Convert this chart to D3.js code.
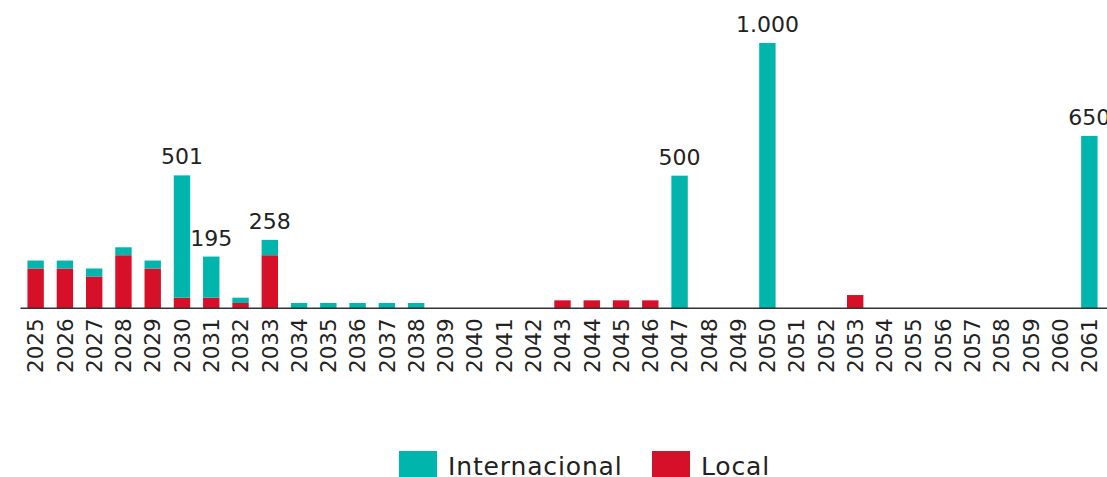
<!DOCTYPE html>
<html>
<head>
<meta charset="utf-8">
<script src="https://cdn.jsdelivr.net/npm/d3@7"></script>
<style>
  html, body { margin: 0; padding: 0; background: #fff; }
  svg { display: block; }
</style>
</head>
<body>
<svg id="chart" width="1107" height="477"></svg>
<script>
const years = ["2025","2026","2027","2028","2029","2030","2031","2032","2033","2034","2035","2036","2037","2038","2039","2040","2041","2042","2043","2044","2045","2046","2047","2048","2049","2050","2051","2052","2053","2054","2055","2056","2057","2058","2059","2060","2061"];
const local = [150,150,120,200,150,40,40,20,200,0,0,0,0,0,0,0,0,0,30,30,30,30,0,0,0,0,0,0,50,0,0,0,0,0,0,0,0];
const internacional = [30,30,30,30,30,461,155,20,58,20,20,20,20,20,0,0,0,0,0,0,0,0,500,0,0,1000,0,0,0,0,0,0,0,0,0,0,650];
const labelYears = ["2030","2031","2033","2047","2050","2061"];
const seriesNames = ["Internacional","Local"];
const colors = { Internacional: "#00B5AC", Local: "#D7102A" };

const locale = d3.formatLocale({decimal: ",", thousands: ".", grouping: [3], currency: ["", ""]});
const fmt = locale.format(",d");

const svg = d3.select("#chart");
const W = 1107;

const x = d3.scaleBand().domain(years).range([21, 1104]).paddingInner(0.44).paddingOuter(0.22);
const y = d3.scaleLinear().domain([0, 1000]).range([308.3, 43]);

const rows = years.map((yr, i) => ({ year: yr, Local: local[i], Internacional: internacional[i] }));
const stack = d3.stack().keys(["Local", "Internacional"]);
const stacked = stack(rows);

const g = svg.append("g");
g.selectAll("g.series").data(stacked).join("g")
  .attr("class", "series")
  .attr("fill", d => colors[d.key])
  .selectAll("rect").data(d => d.filter(p => p[1] - p[0] > 0)).join("rect")
  .attr("x", d => x(d.data.year))
  .attr("width", x.bandwidth())
  .attr("y", d => y(d[1]))
  .attr("height", d => y(d[0]) - y(d[1]));

// baseline axis
const axis = d3.axisBottom(x).tickSize(0).tickPadding(0);
const ax = svg.append("g").attr("transform", `translate(0,${y(0)})`).call(axis);
ax.select(".domain").attr("d", `M20.5,0H${W}`).attr("stroke", "#333").attr("stroke-width", 1.6);
ax.selectAll(".tick text")
  .attr("transform", "rotate(-90)")
  .attr("x", -10)
  .attr("y", 0)
  .attr("dy", "0.36em")
  .attr("text-anchor", "end")
  .attr("font-family", "DejaVu Sans")
  .attr("font-size", "21.5px")
  .attr("fill", "#222");

// value labels
const totals = rows.filter(r => labelYears.includes(r.year));
svg.append("g").selectAll("text").data(totals).join("text")
  .attr("x", d => x(d.year) + x.bandwidth() / 2)
  .attr("y", d => y(d.Local + d.Internacional) - 11)
  .attr("text-anchor", "middle")
  .attr("font-family", "DejaVu Sans")
  .attr("font-size", "22px")
  .attr("fill", "#222")
  .text(d => fmt(d.Local + d.Internacional));

// legend
const legendItems = [
  { name: seriesNames[0], sx: 399, tx: 448 },
  { name: seriesNames[1], sx: 652, tx: 701 }
];
const lg = svg.append("g");
lg.selectAll("rect").data(legendItems).join("rect")
  .attr("x", d => d.sx).attr("y", 451).attr("width", 38).attr("height", 26)
  .attr("fill", d => colors[d.name]);
lg.selectAll("text").data(legendItems).join("text")
  .attr("x", d => d.tx).attr("y", 475)
  .attr("font-family", "DejaVu Sans")
  .attr("font-size", "25px")
  .attr("letter-spacing", "0.85px")
  .attr("fill", "#222")
  .text(d => d.name);
</script>
</body>
</html>
